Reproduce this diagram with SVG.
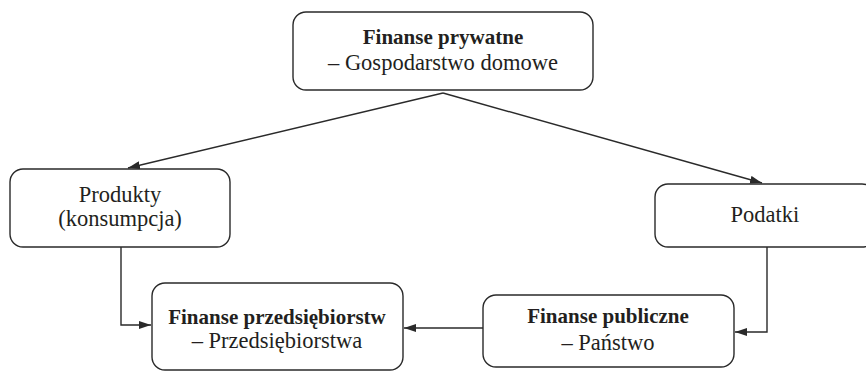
<svg xmlns="http://www.w3.org/2000/svg" width="866" height="374" viewBox="0 0 866 374">
  <style>
    .box { fill: #ffffff; stroke: #2a2a2a; stroke-width: 1.4; }
    .t { font-family: "Liberation Serif", "Times New Roman", serif; fill: #231f20; text-anchor: middle; }
    .b { font-size: 21px; font-weight: bold; }
    .r { font-size: 22.5px; }
    .link { fill: none; stroke: #2a2a2a; stroke-width: 1.4; }
  </style>
  <defs>
    <marker id="arrow" viewBox="0 0 12 8" refX="12" refY="4" markerWidth="12" markerHeight="8" markerUnits="userSpaceOnUse" orient="auto">
      <path d="M0,0 L12,4 L0,8 Z" fill="#2a2a2a"/>
    </marker>
  </defs>
  <rect width="866" height="374" fill="#ffffff"/>

  <g id="connectors">
    <path class="link" d="M443,93 L128,168" marker-end="url(#arrow)"/>
    <path class="link" d="M443,93 L762,183" marker-end="url(#arrow)"/>
    <path class="link" d="M121,247 L121,325 L151,325" marker-end="url(#arrow)"/>
    <path class="link" d="M767,247 L767,332 L735,332" marker-end="url(#arrow)"/>
    <path class="link" d="M483,328 L404,328" marker-end="url(#arrow)"/>
  </g>

  <g id="finanse-prywatne">
    <rect class="box" x="293" y="12" width="300" height="78" rx="13"/>
    <text class="t b" x="443" y="44">Finanse prywatne</text>
    <text class="t r" x="443" y="70">– Gospodarstwo domowe</text>
  </g>

  <g id="produkty">
    <rect class="box" x="10" y="169" width="220" height="78" rx="13"/>
    <text class="t r" x="120" y="202">Produkty</text>
    <text class="t r" x="120" y="226">(konsumpcja)</text>
  </g>

  <g id="podatki">
    <rect class="box" x="655" y="184" width="220" height="63" rx="13"/>
    <text class="t r" x="765" y="222">Podatki</text>
  </g>

  <g id="finanse-przedsiebiorstw">
    <rect class="box" x="152" y="283" width="251" height="87" rx="13"/>
    <text class="t b" x="277" y="324">Finanse przedsiębiorstw</text>
    <text class="t r" x="277" y="348">– Przedsiębiorstwa</text>
  </g>

  <g id="finanse-publiczne">
    <rect class="box" x="483" y="295" width="251" height="72" rx="13"/>
    <text class="t b" x="608" y="323">Finanse publiczne</text>
    <text class="t r" x="608" y="350">– Państwo</text>
  </g>
</svg>
